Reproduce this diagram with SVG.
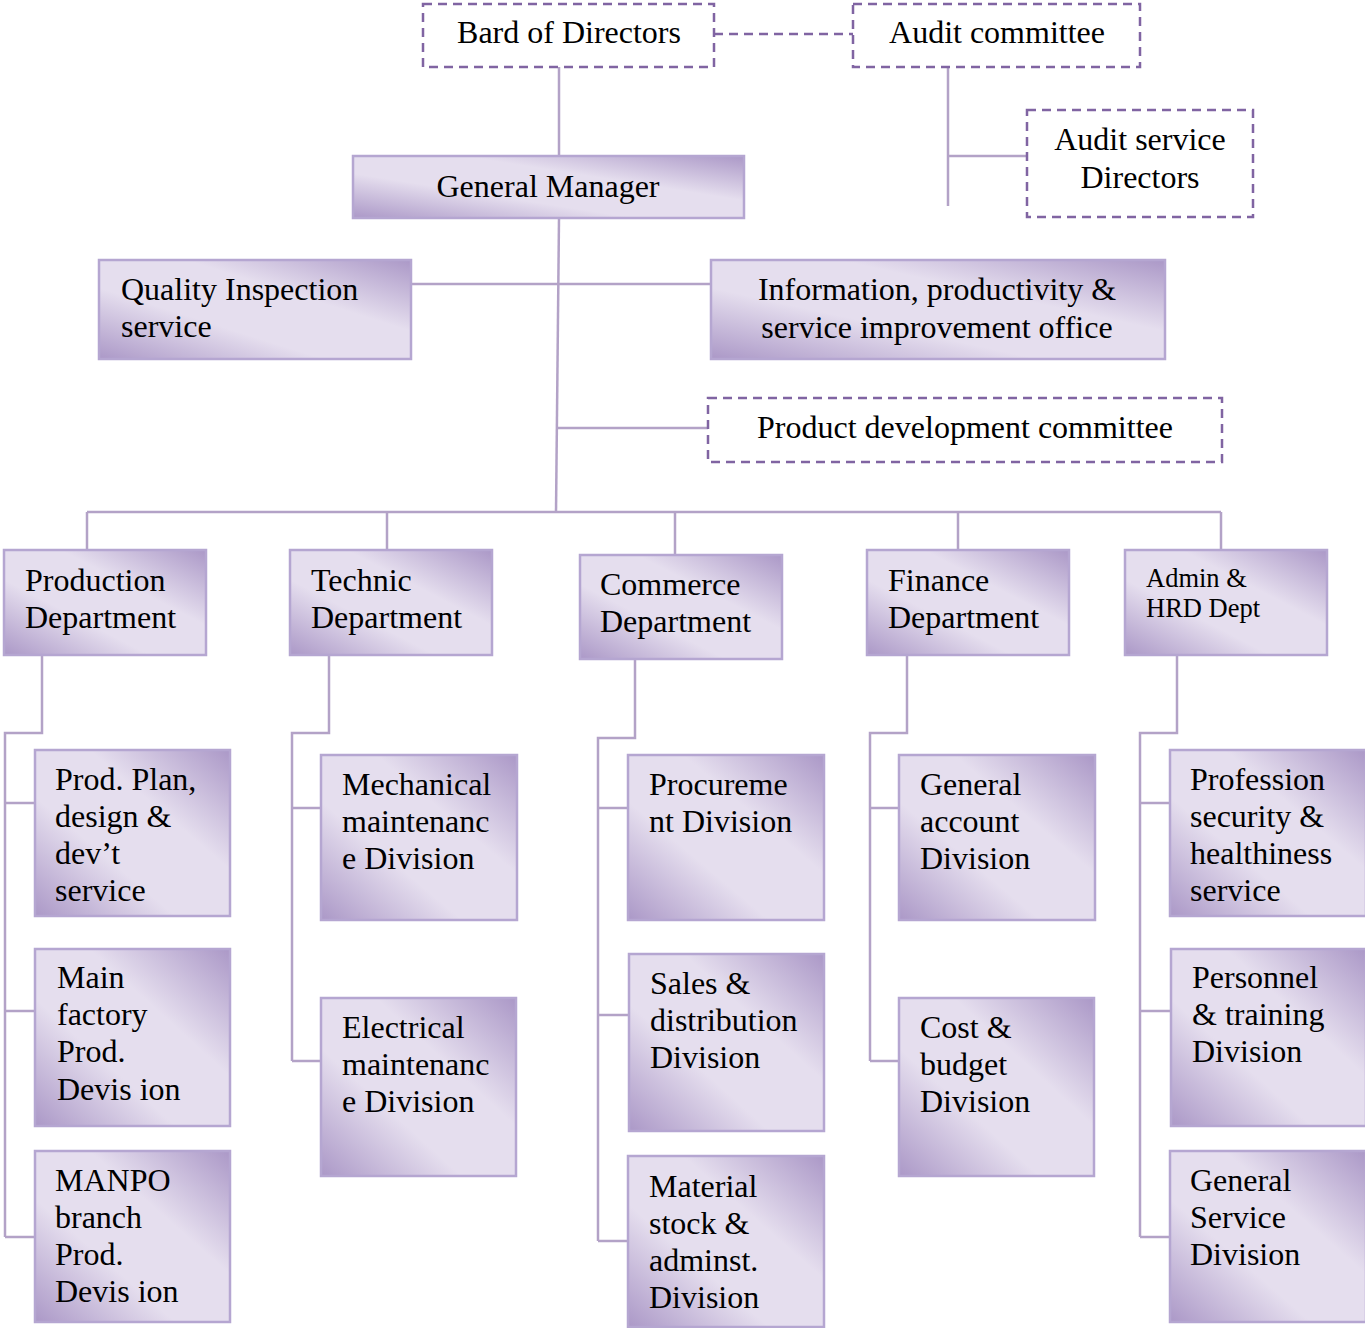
<svg xmlns="http://www.w3.org/2000/svg" width="1365" height="1328" viewBox="0 0 1365 1328">
  <defs>
    <linearGradient id="boxFill" x1="1" y1="0" x2="0" y2="1">
      <stop offset="0" stop-color="#ab98c7"/>
      <stop offset="0.36" stop-color="#e5deee"/>
      <stop offset="0.64" stop-color="#e5deee"/>
      <stop offset="1" stop-color="#ab98c7"/>
    </linearGradient>
  </defs>
  <style>
    .box { fill: url(#boxFill); stroke: #b5a6d1; stroke-width: 2.5; }
    .dash { fill: #ffffff; stroke: #8064a2; stroke-width: 2.5; stroke-dasharray: 9 6; }
    .conn { fill: none; stroke: #b3a2c7; stroke-width: 2.5; }
    .dconn { fill: none; stroke: #8064a2; stroke-width: 2.5; stroke-dasharray: 9 6; }
    text { font-family: "Liberation Serif", "Times New Roman", serif; font-size: 32px; fill: #000000; }
    .c { text-anchor: middle; }
    .sm { font-size: 26.5px; }
  </style>

  <!-- connectors -->
  <g id="connectors">
    <path class="dconn" d="M714 34 H853"/>
    <path class="conn" d="M559 67 V156"/>
    <path class="conn" d="M948 67 V206 M948 156 H1027"/>
    <path class="conn" d="M559 218 L556 512"/>
    <path class="conn" d="M411 284 H712"/>
    <path class="conn" d="M557 428 H708"/>
    <path class="conn" d="M87 512 H1221 M87 512 V550 M387 512 V550 M675 512 V555 M958 512 V550 M1221 512 V550"/>
    <!-- production -->
    <path class="conn" d="M42 655 V733 H5 V1237 M5 803 H35 M5 1011 H35 M5 1237 H35"/>
    <!-- technic -->
    <path class="conn" d="M329 655 V733 H292 V1061 M292 808 H321 M292 1061 H321"/>
    <!-- commerce -->
    <path class="conn" d="M635 659 V738 H598 V1241 M598 808 H628 M598 1015 H629 M598 1241 H628"/>
    <!-- finance -->
    <path class="conn" d="M907 655 V733 H870 V1061 M870 808 H899 M870 1061 H899"/>
    <!-- admin -->
    <path class="conn" d="M1177 655 V733 H1140 V1237 M1140 803 H1170 M1140 1011 H1171 M1140 1237 H1170"/>
  </g>

  <g id="board">
    <rect class="dash" x="423" y="4" width="291" height="63"/>
    <text class="c" x="569" y="43">Bard of Directors</text>
  </g>
  <g id="audit-committee">
    <rect class="dash" x="853" y="4" width="287" height="63"/>
    <text class="c" x="997" y="43">Audit committee</text>
  </g>
  <g id="audit-service">
    <rect class="dash" x="1027" y="110" width="226" height="107"/>
    <text class="c" x="1140" y="150">Audit service</text>
    <text class="c" x="1140" y="188">Directors</text>
  </g>
  <g id="general-manager">
    <rect class="box" x="353" y="156" width="391" height="62"/>
    <text class="c" x="548" y="197">General Manager</text>
  </g>
  <g id="quality">
    <rect class="box" x="99" y="260" width="312" height="99"/>
    <text x="121" y="300">Quality Inspection</text>
    <text x="121" y="337">service</text>
  </g>
  <g id="information">
    <rect class="box" x="711" y="260" width="454" height="99"/>
    <text class="c" x="937" y="300">Information, productivity &amp;</text>
    <text class="c" x="937" y="338">service improvement office</text>
  </g>
  <g id="product-dev">
    <rect class="dash" x="708" y="398" width="514" height="64"/>
    <text class="c" x="965" y="438">Product development committee</text>
  </g>

  <!-- departments -->
  <g id="production">
    <rect class="box" x="4" y="550" width="202" height="105"/>
    <text x="25" y="591">Production</text>
    <text x="25" y="628">Department</text>
  </g>
  <g id="technic">
    <rect class="box" x="290" y="550" width="202" height="105"/>
    <text x="311" y="591">Technic</text>
    <text x="311" y="628">Department</text>
  </g>
  <g id="commerce">
    <rect class="box" x="580" y="555" width="202" height="104"/>
    <text x="600" y="595">Commerce</text>
    <text x="600" y="632">Department</text>
  </g>
  <g id="finance">
    <rect class="box" x="867" y="550" width="202" height="105"/>
    <text x="888" y="591">Finance</text>
    <text x="888" y="628">Department</text>
  </g>
  <g id="admin">
    <rect class="box" x="1125" y="550" width="202" height="105"/>
    <text class="sm" x="1146" y="587">Admin &amp;</text>
    <text class="sm" x="1146" y="617">HRD Dept</text>
  </g>

  <!-- production divisions -->
  <g id="prod-plan">
    <rect class="box" x="35" y="750" width="195" height="166"/>
    <text x="55" y="790">Prod. Plan,</text>
    <text x="55" y="827">design &amp;</text>
    <text x="55" y="864">dev’t</text>
    <text x="55" y="901">service</text>
  </g>
  <g id="main-factory">
    <rect class="box" x="35" y="949" width="195" height="177"/>
    <text x="57" y="988">Main</text>
    <text x="57" y="1025">factory</text>
    <text x="57" y="1062">Prod.</text>
    <text x="57" y="1100">Devis ion</text>
  </g>
  <g id="manpo">
    <rect class="box" x="35" y="1151" width="195" height="171"/>
    <text x="55" y="1191">MANPO</text>
    <text x="55" y="1228">branch</text>
    <text x="55" y="1265">Prod.</text>
    <text x="55" y="1302">Devis ion</text>
  </g>

  <!-- technic divisions -->
  <g id="mechanical">
    <rect class="box" x="321" y="755" width="196" height="165"/>
    <text x="342" y="795">Mechanical</text>
    <text x="342" y="832">maintenanc</text>
    <text x="342" y="869">e Division</text>
  </g>
  <g id="electrical">
    <rect class="box" x="321" y="998" width="195" height="178"/>
    <text x="342" y="1038">Electrical</text>
    <text x="342" y="1075">maintenanc</text>
    <text x="342" y="1112">e Division</text>
  </g>

  <!-- commerce divisions -->
  <g id="procurement">
    <rect class="box" x="628" y="755" width="196" height="165"/>
    <text x="649" y="795">Procureme</text>
    <text x="649" y="832">nt Division</text>
  </g>
  <g id="sales">
    <rect class="box" x="629" y="954" width="195" height="177"/>
    <text x="650" y="994">Sales &amp;</text>
    <text x="650" y="1031">distribution</text>
    <text x="650" y="1068">Division</text>
  </g>
  <g id="material">
    <rect class="box" x="628" y="1156" width="196" height="171"/>
    <text x="649" y="1197">Material</text>
    <text x="649" y="1234">stock &amp;</text>
    <text x="649" y="1271">adminst.</text>
    <text x="649" y="1308">Division</text>
  </g>

  <!-- finance divisions -->
  <g id="general-account">
    <rect class="box" x="899" y="755" width="196" height="165"/>
    <text x="920" y="795">General</text>
    <text x="920" y="832">account</text>
    <text x="920" y="869">Division</text>
  </g>
  <g id="cost-budget">
    <rect class="box" x="899" y="998" width="195" height="178"/>
    <text x="920" y="1038">Cost &amp;</text>
    <text x="920" y="1075">budget</text>
    <text x="920" y="1112">Division</text>
  </g>

  <!-- admin divisions -->
  <g id="profession">
    <rect class="box" x="1170" y="750" width="196" height="166"/>
    <text x="1190" y="790">Profession</text>
    <text x="1190" y="827">security &amp;</text>
    <text x="1190" y="864">healthiness</text>
    <text x="1190" y="901">service</text>
  </g>
  <g id="personnel">
    <rect class="box" x="1171" y="949" width="195" height="177"/>
    <text x="1192" y="988">Personnel</text>
    <text x="1192" y="1025">&amp; training</text>
    <text x="1192" y="1062">Division</text>
  </g>
  <g id="general-service">
    <rect class="box" x="1170" y="1151" width="196" height="171"/>
    <text x="1190" y="1191">General</text>
    <text x="1190" y="1228">Service</text>
    <text x="1190" y="1265">Division</text>
  </g>
</svg>
